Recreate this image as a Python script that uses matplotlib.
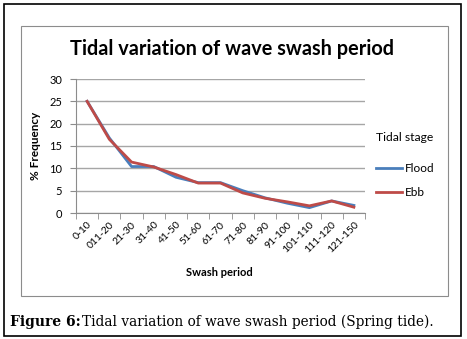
import matplotlib
matplotlib.use("Agg")
import matplotlib.pyplot as plt
from matplotlib.patches import Rectangle
import numpy as np

categories = ["0-10", "011-20", "21-30", "31-40", "41-50", "51-60", "61-70",
              "71-80", "81-90", "91-100", "101-110", "111-120", "121-150"]
flood = [25.0, 16.8, 10.4, 10.4, 8.0, 6.8, 6.8, 5.0, 3.4, 2.2, 1.2, 2.7, 1.7]
ebb = [25.0, 16.5, 11.4, 10.3, 8.6, 6.7, 6.7, 4.5, 3.3, 2.5, 1.6, 2.7, 1.3]
yticks = [0, 5, 10, 15, 20, 25, 30]

W, H = 467, 339
fig = plt.figure(figsize=(W / 100, H / 100), dpi=100)
fig.patch.set_facecolor("white")

def fx(px):
    return px / W

def fy(py):
    return 1 - py / H

# outer black frame
fig.add_artist(Rectangle((fx(4), fy(336)), fx(457), 332 / H, transform=fig.transFigure,
                         fill=False, edgecolor="black", linewidth=1.2))
# chart gray frame
fig.add_artist(Rectangle((fx(21), fy(296)), fx(427), 270 / H, transform=fig.transFigure,
                         fill=False, edgecolor="#8c8c8c", linewidth=0.8))

font = "Lato"
ax = fig.add_axes([fx(76), fy(213), fx(365 - 76), (213 - 79) / H])
x = np.arange(len(categories))
ax.plot(x, flood, color="#4a7ebb", linewidth=2, label="Flood")
ax.plot(x, ebb, color="#be4b48", linewidth=2, label="Ebb")
ax.set_xlim(-0.5, len(categories) - 0.5)
ax.set_ylim(0, 30)
ax.set_yticks(yticks)
ax.set_yticklabels([str(t) for t in yticks], fontsize=8, family=font)
ax.yaxis.grid(True, color="#a6a6a6", linewidth=1)
ax.set_axisbelow(True)
ax.set_xticks(x)
ax.set_xticklabels(categories, rotation=45, ha="right", rotation_mode="anchor",
                   fontsize=7.5, family=font)
ax.set_xticks(np.arange(-0.5, len(categories)), minor=True)
ax.tick_params(axis="x", which="major", length=0, pad=5)
ax.tick_params(axis="x", which="minor", length=4, color="#8c8c8c")
ax.tick_params(axis="y", length=4, color="#8c8c8c", pad=6)
for s in ["top", "right"]:
    ax.spines[s].set_visible(False)
for s in ["left", "bottom"]:
    ax.spines[s].set_color("#8c8c8c")

ax.set_ylabel("% Frequency", fontsize=8.5, fontweight="bold", family=font, labelpad=6)
fig.text(fx(219), fy(273), "Swash period", fontsize=8, fontweight="bold", family=font,
         ha="center", va="center")
fig.text(fx(232), fy(49), "Tidal variation of wave swash period", fontsize=14.3,
         fontweight="bold", family=font, ha="center", va="center")

leg = ax.legend(title="Tidal stage", loc="center left", bbox_to_anchor=(fx(365), fy(165)),
                bbox_transform=fig.transFigure, frameon=False, prop={"family": font, "size": 8.5},
                handlelength=2.2, labelspacing=1.1, handletextpad=0.3)
leg.get_title().set_family(font)
leg.get_title().set_fontsize(8.7)
leg._legend_box.align = "left"
leg._legend_box.sep = 14

fig.text(fx(10), fy(322), "Figure 6:", fontsize=10, fontweight="bold",
         family="DejaVu Serif", ha="left", va="center")
fig.text(fx(82), fy(322), "Tidal variation of wave swash period (Spring tide).", fontsize=9.8,
         family="DejaVu Serif", ha="left", va="center")

fig.savefig("out.png", dpi=100, facecolor="white")
